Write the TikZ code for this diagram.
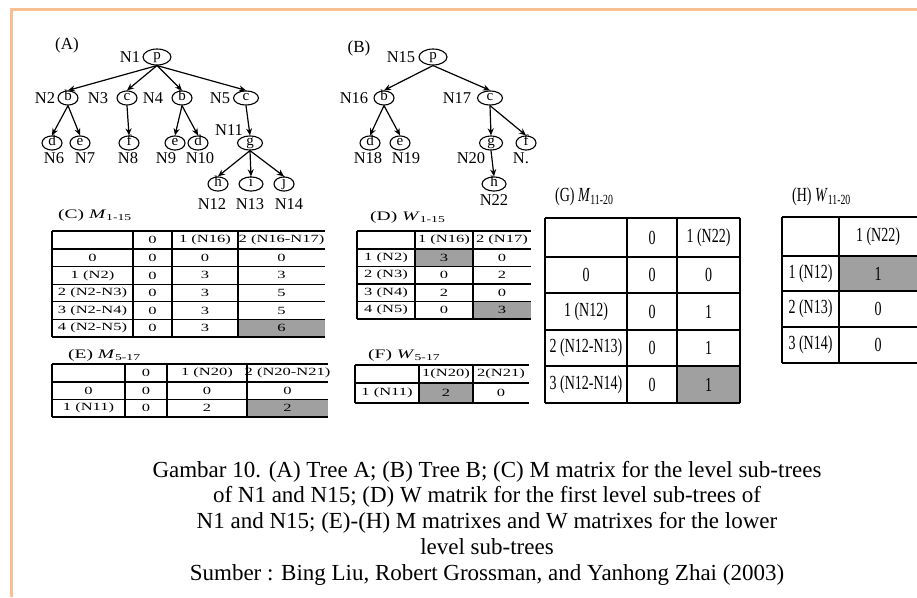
\documentclass[tikz,border=0pt]{standalone}
\usepackage{fontspec}
\setmainfont{Liberation Serif}
\usepackage{graphicx}
\usetikzlibrary{shapes,arrows,arrows.meta,positioning}

\definecolor{frameorange}{RGB}{248,192,146}
\definecolor{cellgray}{RGB}{160,160,160}
\newcommand{\widetxt}[1]{\scalebox{1.5}[1]{#1}}
\newcommand{\narrowtxt}[1]{\scalebox{0.7}[1]{#1}}

\begin{document}
\begin{tikzpicture}[
    x=1pt, y=-1pt,
    vert/.style={ellipse, draw, line width=1.1pt, minimum width=20pt, minimum height=14pt, inner sep=0pt, text height=7.5pt, text depth=2.5pt, font=\fontsize{15}{15}\selectfont},
    lbl/.style={inner sep=0pt, font=\fontsize{16.5}{16.5}\selectfont},
    arrow/.style={line width=1.2pt,-{Stealth[length=7pt,width=6pt]}},
    tline/.style={line width=1.1pt},
    ctext/.style={inner sep=0pt, font=\fontsize{11}{11}\selectfont},
    gtext/.style={inner sep=0pt, font=\fontsize{20}{22}\selectfont},
    ctitle/.style={anchor=west, inner sep=0pt, font=\fontsize{13}{13}\selectfont},
    gtitle/.style={anchor=west, inner sep=0pt, font=\fontsize{20}{20}\selectfont}
]
\useasboundingbox (0,0) rectangle (917,597);

% frame
\draw[frameorange, line width=2.5pt] (10,9.5) -- (917,9.5);
\draw[frameorange, line width=2.5pt] (11.5,8) -- (11.5,597);

% Tree A
\node[lbl, font=\fontsize{17}{17}\selectfont] (treeA) at (67,45) {(A)};
\node[vert, minimum width=28pt, minimum height=16pt] (p1) at (157,57) {p};
\node[vert] (b2) at (68,98) {b};
\node[vert] (c3) at (127,98) {c};
\node[vert] (b4) at (182,98) {b};
\node[vert, minimum width=25pt] (c5) at (246,98) {c};
\node[vert] (d6) at (52,143) {d};
\node[vert] (e7) at (80,143) {e};
\node[vert] (f8) at (129,143) {f};
\node[vert] (e9) at (175,143) {e};
\node[vert] (d10) at (198,143) {d};
\node[vert, minimum width=25pt] (g11) at (250,143) {g};
\node[vert] (h12) at (218,184) {h};
\node[vert, minimum width=24pt] (i13) at (251,184) {i};
\node[vert] (j14) at (284,184) {j};

\node[lbl] (n1) at (130,57) {N1};
\node[lbl] (n2) at (45,98) {N2};
\node[lbl] (n3) at (98,98) {N3};
\node[lbl] (n4) at (153,98) {N4};
\node[lbl] (n5) at (220,98) {N5};
\node[lbl] (n6) at (54,158) {N6};
\node[lbl] (n7) at (85,158) {N7};
\node[lbl] (n8) at (128,158) {N8};
\node[lbl] (n9) at (166,158) {N9};
\node[lbl] (n10) at (200,158) {N10};
\node[lbl] (n11) at (229,130) {N11};
\node[lbl] (n12) at (212,204) {N12};
\node[lbl] (n13) at (250,204) {N13};
\node[lbl] (n14) at (289,204) {N14};

\foreach \k in {b2,c3,b4,c5} \draw[arrow] (p1.south) -- (\k.north);
\draw[arrow] (b2.south) -- (d6.north);
\draw[arrow] (b2.south) -- (e7.north);
\draw[arrow] (c3.south) -- (f8.north);
\draw[arrow] (b4.south) -- (e9.north);
\draw[arrow] (b4.south) -- (d10.north);
\draw[arrow] (c5.south) -- (g11.north);
\foreach \k in {h12,i13,j14} \draw[arrow] (g11.south) -- (\k.north);

% Tree B
\node[lbl, font=\fontsize{17}{17}\selectfont] (treeB) at (359,48) {(B)};
\node[vert, minimum width=28pt, minimum height=16pt] (p15) at (433,57) {p};
\node[vert] (b16) at (384,98) {b};
\node[vert, minimum width=25pt] (c17) at (490,98) {c};
\node[vert] (d18) at (370,143) {d};
\node[vert] (e19) at (400,143) {e};
\node[vert, minimum width=23pt] (g20) at (491,143) {g};
\node[vert] (f21) at (526,143) {f};
\node[vert, minimum width=24pt] (h22) at (494,184) {h};

\node[lbl] (n15) at (401,57) {N15};
\node[lbl] (n16) at (354,98) {N16};
\node[lbl] (n17) at (457,98) {N17};
\node[lbl] (n18) at (368,158) {N18};
\node[lbl] (n19) at (406,158) {N19};
\node[lbl] (n20) at (471,158) {N20};
\node[lbl] (n21) at (521,158) {N.};
\node[lbl] (n22) at (494,200) {N22};

\draw[arrow] (p15.south) -- (b16.north);
\draw[arrow] (p15.south) -- (c17.north);
\draw[arrow] (b16.south) -- (d18.north);
\draw[arrow] (b16.south) -- (e19.north);
\draw[arrow] (c17.south) -- (g20.north);
\draw[arrow] (c17.south) -- (f21.north);
\draw[arrow] (g20.south) -- (h22.north);

% (C) M matrix
\node[ctitle] (titleC) at (58,215) {\widetxt{(C) \textit{M}\textsubscript{1-15}}};
\fill[cellgray] (238,319.4) rectangle (325,337);
\foreach \y in {231,249,266.6,284.2,301.8,319.4,337} \draw[tline] (52,\y) -- (325,\y);
\foreach \x in {52,133,172,238} \draw[tline] (\x,231) -- (\x,337);
\foreach \ty/\a/\b/\c/\d [count=\r] in {240/{}/0/{1 (N16)}/{2 (N16-N17)},
    257.8/0/0/0/0, 275.4/{1 (N2)}/0/3/3, 293/{2 (N2-N3)}/0/3/5,
    310.6/{3 (N2-N4)}/0/3/5, 328.2/{4 (N2-N5)}/0/3/6} {
  \node[ctext] (C\r-1) at (92.5,\ty) {\widetxt{\a}};
  \node[ctext] (C\r-2) at (152.5,\ty) {\widetxt{\b}};
  \node[ctext] (C\r-3) at (205,\ty) {\widetxt{\c}};
  \node[ctext] (C\r-4) at (281.5,\ty) {\widetxt{\d}};
}

% (D) W matrix
\node[ctitle] (titleD) at (370,217) {\widetxt{(D) \textit{W}\textsubscript{1-15}}};
\fill[cellgray] (415,249) rectangle (473,266.5);
\fill[cellgray] (473,301.5) rectangle (531,319);
\foreach \y in {231,249,266.5,284,301.5,319} \draw[tline] (357,\y) -- (531,\y);
\foreach \x in {357,415,473} \draw[tline] (\x,231) -- (\x,319);
\foreach \ty/\a/\b/\c [count=\r] in {240/{}/{1 (N16)}/{2 (N17)},
    257.8/{1 (N2)}/3/0, 275.2/{2 (N3)}/0/2, 292.8/{3 (N4)}/2/0, 310.2/{4 (N5)}/0/3} {
  \node[ctext] (D\r-1) at (386,\ty) {\widetxt{\a}};
  \node[ctext] (D\r-2) at (444,\ty) {\widetxt{\b}};
  \node[ctext] (D\r-3) at (502,\ty) {\widetxt{\c}};
}

% (E) M matrix
\node[ctitle] (titleE) at (68,355) {\widetxt{(E) \textit{M}\textsubscript{5-17}}};
\fill[cellgray] (247,399.5) rectangle (328,417);
\foreach \y in {364,382,399.5,417} \draw[tline] (52,\y) -- (328,\y);
\foreach \x in {52,125,167,247} \draw[tline] (\x,364) -- (\x,417);
\foreach \ty/\a/\b/\c/\d [count=\r] in {373/{}/0/{1 (N20)}/{2 (N20-N21)},
    390.8/0/0/0/0, 408.2/{1 (N11)}/0/2/2} {
  \node[ctext] (E\r-1) at (88.5,\ty) {\widetxt{\a}};
  \node[ctext] (E\r-2) at (146,\ty) {\widetxt{\b}};
  \node[ctext] (E\r-3) at (207,\ty) {\widetxt{\c}};
  \node[ctext] (E\r-4) at (287.5,\ty) {\widetxt{\d}};
}

% (F) W matrix
\node[ctitle] (titleF) at (368,355) {\widetxt{(F) \textit{W}\textsubscript{5-17}}};
\fill[cellgray] (419,383) rectangle (473,403);
\foreach \y in {365,383,403} \draw[tline] (355,\y) -- (529,\y);
\foreach \x in {355,419,473} \draw[tline] (\x,365) -- (\x,403);
\foreach \ty/\a/\b/\c [count=\r] in {374/{}/{1(N20)}/{2(N21)}, 393/{1 (N11)}/2/0} {
  \node[ctext] (F\r-1) at (387,\ty) {\widetxt{\a}};
  \node[ctext] (F\r-2) at (446,\ty) {\widetxt{\b}};
  \node[ctext] (F\r-3) at (501,\ty) {\widetxt{\c}};
}

% (G) M matrix
\node[gtitle] (titleG) at (555,197) {\narrowtxt{(G) \textit{M}\textsubscript{11-20}}};
\fill[cellgray] (677,366) rectangle (740,403);
\foreach \y in {218,257,293,330,366,403} \draw[tline] (545,\y) -- (740,\y);
\foreach \x in {545,627,677,740} \draw[tline] (\x,218) -- (\x,403);
\foreach \ty/\a/\b/\c [count=\r] in {237.5/{}/0/{1 (N22)}, 275/0/0/0,
    311.5/{1 (N12)}/0/1, 348/{2 (N12-N13)}/0/1, 384.5/{3 (N12-N14)}/0/1} {
  \node[gtext] (G\r-1) at (586,\ty) {\narrowtxt{\a}};
  \node[gtext] (G\r-2) at (652,\ty) {\narrowtxt{\b}};
  \node[gtext] (G\r-3) at (708.5,\ty) {\narrowtxt{\c}};
}

% (H) W matrix
\node[gtitle] (titleH) at (792,197) {\narrowtxt{(H) \textit{W}\textsubscript{11-20}}};
\fill[cellgray] (839,256) rectangle (917,291);
\foreach \y in {217,256,291,327,363} \draw[tline] (782,\y) -- (917,\y);
\foreach \x in {782,839} \draw[tline] (\x,217) -- (\x,363);
\foreach \ty/\a/\b [count=\r] in {236.5/{}/{1 (N22)}, 273.5/{1 (N12)}/1,
    309/{2 (N13)}/0, 345/{3 (N14)}/0} {
  \node[gtext] (H\r-1) at (810.5,\ty) {\narrowtxt{\a}};
  \node[gtext] (H\r-2) at (878,\ty) {\narrowtxt{\b}};
}

% caption
\node[inner sep=0pt, align=center, font=\fontsize{23}{25.8}\selectfont] (caption) at (487,523) {Gambar 10. (A) Tree A; (B) Tree B; (C) M matrix for the level sub-trees\\
of N1 and N15; (D) W matrik for the first level sub-trees of\\
N1 and N15; (E)-(H) M matrixes and W matrixes for the lower\\
level sub-trees\\
Sumber : Bing Liu, Robert Grossman, and Yanhong Zhai (2003)};

\end{tikzpicture}
\end{document}
